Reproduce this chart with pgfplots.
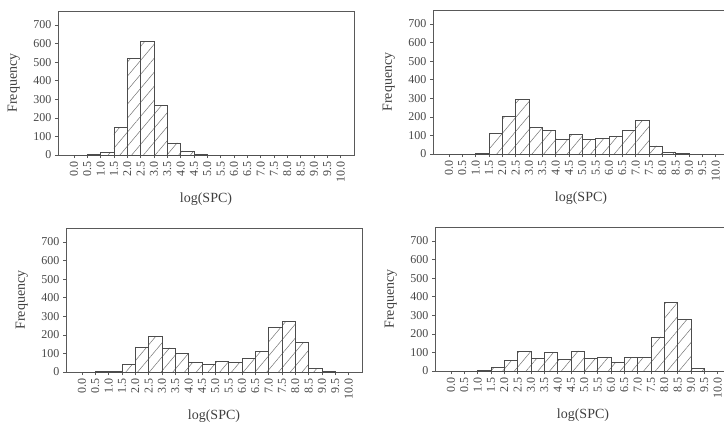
\documentclass[border=0pt]{standalone}
\usepackage{fontspec}
\setmainfont{Liberation Serif}
\usepackage{pgfplots}
\pgfplotsset{compat=1.18}
\usetikzlibrary{patterns.meta}

\pgfplotsset{
  spc/.style={
    scale only axis, width=296pt, height=144pt,
    anchor=south west,
    xmin=-0.6, xmax=10.5, ymin=0, ymax=775,
    xtick={0,0.5,...,10},
    xticklabels={0.0,0.5,1.0,1.5,2.0,2.5,3.0,3.5,4.0,4.5,5.0,5.5,6.0,6.5,7.0,7.5,8.0,8.5,9.0,9.5,10.0},
    ytick={0,100,...,700},
    xtick pos=bottom, ytick pos=left,
    tick align=outside, major tick length=3pt,
    axis line style={black!65},
    tick style={black!65, thin},
    /pgf/number format/assume math mode=true,
    tick label style={font=\fontsize{12}{14}\selectfont, text=black!72},
    xticklabel style={rotate=90, anchor=east},
    every axis x label/.style={at={(axis description cs:0.5,-0.31)}, anchor=center,
      font=\fontsize{14}{16}\selectfont, text=black!75},
    every axis y label/.style={at={(axis description cs:-0.149,0.5)}, rotate=90, anchor=center,
      font=\fontsize{14}{16}\selectfont, text=black!75},
    xlabel={log(SPC)}, ylabel={Frequency},
  },
  hist/.style={ybar, bar width=0.5, bar shift=0pt, draw=black!70, line width=0.6pt,
    pattern={Lines[angle=50,distance=9pt,line width=0.5pt]}, pattern color=black!55},
}

\begin{document}
\begin{tikzpicture}
\path[use as bounding box] (0,0) rectangle (724pt,424pt);
\clip (0,0) rectangle (724pt,424pt);

% top left
\begin{axis}[spc, at={(58pt,269pt)}]
\addplot[hist] coordinates {
(0.25,0)(0.75,3)(1.25,15)(1.75,150)(2.25,522)(2.75,612)(3.25,268)(3.75,65)(4.25,22)(4.75,3)
(5.25,0)(5.75,0)(6.25,0)(6.75,0)(7.25,0)(7.75,0)(8.25,0)(8.75,0)(9.25,0)(9.75,0)};
\end{axis}

% top right
\begin{axis}[spc, at={(433pt,270pt)}]
\addplot[hist] coordinates {
(0.25,0)(0.75,0)(1.25,5)(1.75,113)(2.25,202)(2.75,295)(3.25,145)(3.75,125)(4.25,81)(4.75,107)
(5.25,77)(5.75,84)(6.25,94)(6.75,125)(7.25,180)(7.75,44)(8.25,11)(8.75,3)(9.25,0)(9.75,0)};
\end{axis}

% bottom left
\begin{axis}[spc, at={(66pt,52pt)}]
\addplot[hist] coordinates {
(0.25,0)(0.75,2)(1.25,2)(1.75,41)(2.25,135)(2.75,193)(3.25,130)(3.75,99)(4.25,52)(4.75,42)
(5.25,58)(5.75,51)(6.25,72)(6.75,110)(7.25,242)(7.75,274)(8.25,159)(8.75,20)(9.25,3)(9.75,0)};
\end{axis}

% bottom right
\begin{axis}[spc, at={(435pt,53pt)}]
\addplot[hist] coordinates {
(0.25,0)(0.75,0)(1.25,2)(1.75,20)(2.25,59)(2.75,104)(3.25,68)(3.75,99)(4.25,61)(4.75,108)
(5.25,66)(5.75,74)(6.25,48)(6.75,74)(7.25,74)(7.75,183)(8.25,370)(8.75,278)(9.25,14)(9.75,0)};
\end{axis}
\end{tikzpicture}
\end{document}
